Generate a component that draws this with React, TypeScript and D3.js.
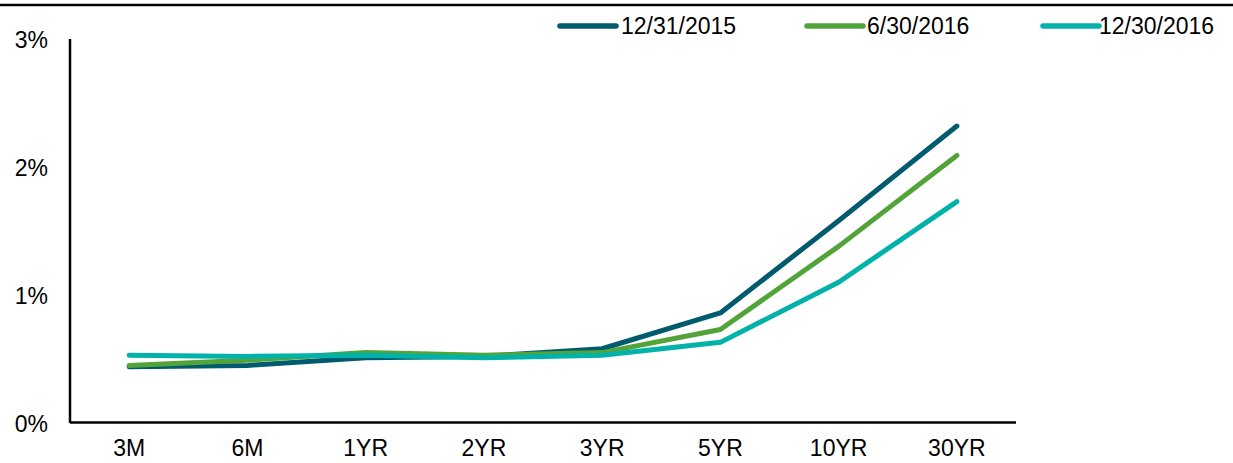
import React from "react";
import * as d3 from "d3";

const categories = ["3M", "6M", "1YR", "2YR", "3YR", "5YR", "10YR", "30YR"];
const seriesNames = ["12/31/2015", "6/30/2016", "12/30/2016"];
const dec2015 = [0.44, 0.45, 0.51, 0.52, 0.58, 0.86, 1.58, 2.32];
const jun2016 = [0.45, 0.49, 0.55, 0.53, 0.55, 0.73, 1.38, 2.09];
const dec2016 = [0.53, 0.52, 0.53, 0.51, 0.53, 0.63, 1.10, 1.73];
const yTicks = [0, 1, 2, 3];
const colors = ["#005b6e", "#52a43a", "#00b2a9"];

const W = 1233;
const H = 463;
const FONT = "Arial, 'Liberation Sans', sans-serif";

export default function App() {
  const x = d3.scaleBand<string>().domain(categories).range([70, 1016]);
  const y = d3.scaleLinear().domain([0, 3]).range([423, 39]);
  const line = d3
    .line<number>()
    .x((_, i) => (x(categories[i]) as number) + x.bandwidth() / 2)
    .y((d) => y(d));
  const series = [dec2015, jun2016, dec2016];
  const legend = [
    { lx: 560, tx: 621 },
    { lx: 807, tx: 867 },
    { lx: 1043, tx: 1099 },
  ];
  return (
    <svg
      width={W}
      height={H}
      style={{ position: "absolute", left: 0, top: 0, background: "#fff" }}
      fontFamily={FONT}
    >
      <line x1={0} x2={W} y1={5} y2={5} stroke="#000" strokeWidth={2.5} />
      {legend.map((l, i) => (
        <g key={i}>
          <line
            x1={l.lx}
            x2={l.lx + 56}
            y1={26}
            y2={26}
            stroke={colors[i]}
            strokeWidth={5.5}
            strokeLinecap="round"
          />
          <text x={l.tx} y={34} fontSize={23} fill="#000">
            {seriesNames[i]}
          </text>
        </g>
      ))}
      {yTicks.map((t) => (
        <text
          key={t}
          x={48}
          y={y(t) + 1}
          dy="0.35em"
          textAnchor="end"
          fontSize={23}
          fill="#000"
        >
          {t}%
        </text>
      ))}
      {categories.map((c) => (
        <text
          key={c}
          x={(x(c) as number) + x.bandwidth() / 2}
          y={456}
          textAnchor="middle"
          fontSize={23}
          fill="#000"
        >
          {c}
        </text>
      ))}
      {series.map((s, i) => (
        <path
          key={i}
          d={line(s) as string}
          fill="none"
          stroke={colors[i]}
          strokeWidth={5}
          strokeLinecap="round"
          strokeLinejoin="round"
        />
      ))}
      <line x1={70} x2={70} y1={39} y2={423} stroke="#000" strokeWidth={2.5} />
      <line x1={70} x2={1016} y1={422.5} y2={422.5} stroke="#000" strokeWidth={2.5} />
    </svg>
  );
}
